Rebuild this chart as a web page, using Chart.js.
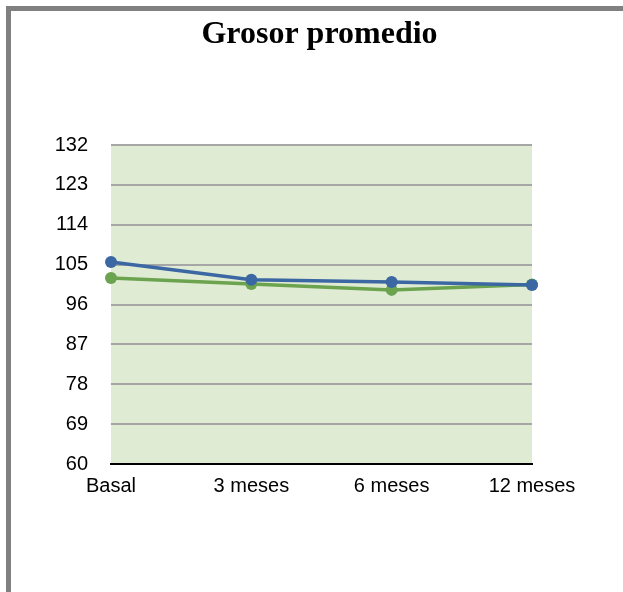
<!DOCTYPE html>
<html>
<head>
<meta charset="utf-8">
<script src="https://cdn.jsdelivr.net/npm/chart.js@4/dist/chart.umd.min.js"></script>
<style>
  html, body { margin: 0; padding: 0; background: #fff; }
  #wrap { position: relative; width: 623px; height: 592px; }
  #frame {
    position: absolute; left: 6px; top: 6px; right: 0; bottom: 0;
    border-left: 5px solid #808080; border-top: 5px solid #808080;
  }
  canvas { position: absolute; left: 0; top: 0; }
</style>
</head>
<body>
<div id="wrap">
  <div id="frame"></div>
  <canvas id="c" width="623" height="592"></canvas>
</div>
<script>
// Grosor promedio por visita
const categories = ['Basal', '3 meses', '6 meses', '12 meses'];
const serieAzul  = [105.6, 101.6, 101.1, 100.4];
const serieVerde = [102.0, 100.6, 99.3, 100.5];
const yTicks = [60, 69, 78, 87, 96, 105, 114, 123, 132];
const chartTitle = 'Grosor promedio';

// Fills the plotting area with a pale green background
const plotBackground = {
  id: 'plotBackground',
  beforeDraw(chart) {
    const { ctx, chartArea: a } = chart;
    ctx.save();
    ctx.fillStyle = '#e0ebd4';
    ctx.fillRect(a.left, a.top, a.right - a.left, a.bottom - a.top);
    ctx.restore();
  }
};

// Title centred over the framed page area
const pageTitle = {
  id: 'pageTitle',
  afterDraw(chart) {
    const ctx = chart.ctx;
    ctx.save();
    ctx.fillStyle = '#000';
    ctx.font = 'bold 32px "Liberation Serif", "Times New Roman", serif';
    ctx.textAlign = 'center';
    ctx.textBaseline = 'alphabetic';
    ctx.fillText(chartTitle, (chart.width + 16) / 2, 43);
    ctx.restore();
  }
};

// The first dataset is painted last, so the blue series sits on top
new Chart(document.getElementById('c'), {
  type: 'line',
  data: {
    labels: categories,
    datasets: [
      {
        data: serieAzul,
        borderColor: '#3b67a3',
        backgroundColor: '#3b67a3',
        borderWidth: 3.5,
        pointRadius: 6,
        pointBorderWidth: 0,
        tension: 0
      },
      {
        data: serieVerde,
        borderColor: '#6ba34f',
        backgroundColor: '#6ba34f',
        borderWidth: 3.5,
        pointRadius: 6,
        pointBorderWidth: 0,
        tension: 0
      }
    ]
  },
  options: {
    responsive: false,
    animation: false,
    events: [],
    layout: { padding: { left: 18, right: 91, top: 145, bottom: 88 } },
    plugins: {
      legend: { display: false },
      tooltip: { enabled: false },
      title: { display: false }
    },
    scales: {
      x: {
        offset: false,
        grid: { display: false, drawTicks: false },
        border: { display: true, color: '#000', width: 2 },
        ticks: {
          color: '#000',
          font: { family: '"Liberation Sans", Arial, sans-serif', size: 20 },
          padding: 10,
          maxRotation: 0,
          autoSkip: false
        },
        afterFit(scale) { scale.height = 40; }
      },
      y: {
        min: 60,
        max: 132,
        afterBuildTicks(scale) { scale.ticks = yTicks.map(v => ({ value: v })); },
        grid: { color: '#a6a6a6', lineWidth: 2, drawTicks: false },
        border: { display: false },
        ticks: {
          color: '#000',
          font: { family: '"Liberation Sans", Arial, sans-serif', size: 20 },
          padding: 23
        },
        afterFit(scale) { scale.width = 93; }
      }
    }
  },
  plugins: [plotBackground, pageTitle]
});
</script>
</body>
</html>
